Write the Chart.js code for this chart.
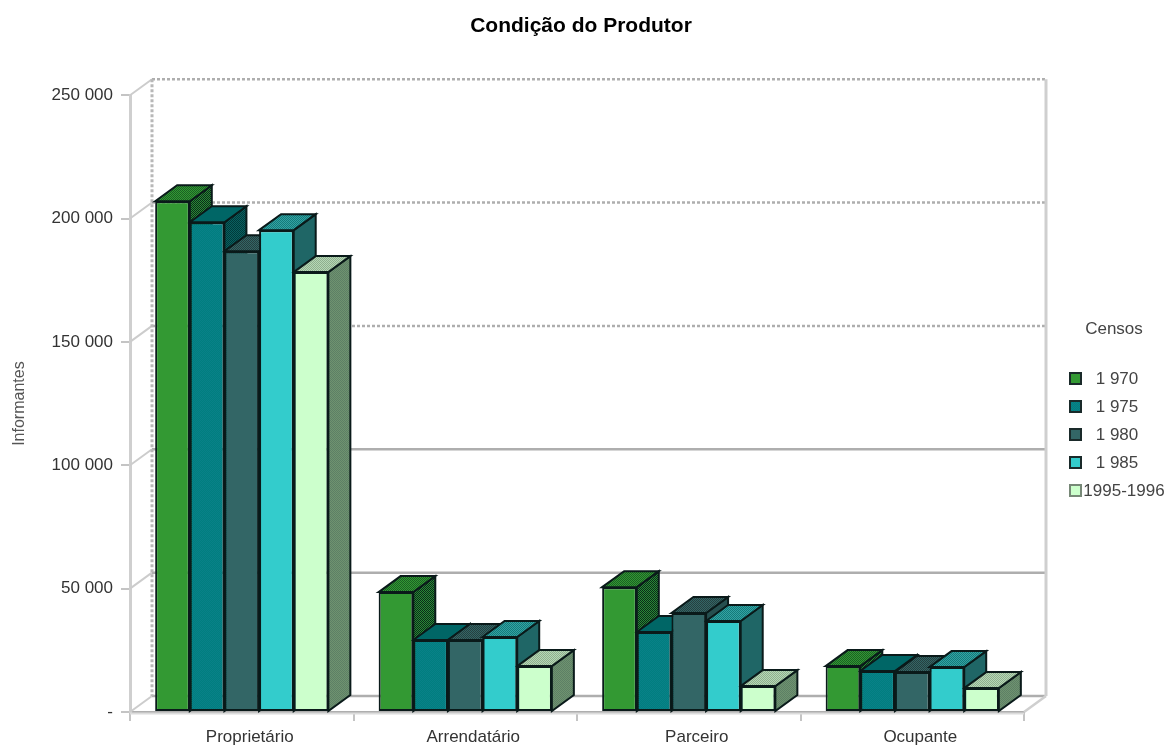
<!DOCTYPE html>
<html>
<head>
<meta charset="utf-8">
<title>Condição do Produtor</title>
<script src="https://cdn.jsdelivr.net/npm/chart.js@4"></script>
<style>
  html, body { margin: 0; padding: 0; background: #fff; overflow: hidden; }
  /* the original is a soft low-res gif */
  canvas { display: block; filter: blur(0.4px); }
</style>
</head>
<body>
<canvas id="produtor" width="1166" height="745"></canvas>
<script>
const categories = ['Proprietário', 'Arrendatário', 'Parceiro', 'Ocupante'];
const censos = ['1 970', '1 975', '1 980', '1 985', '1995-1996'];
const values1970 = [207000, 48600, 50600, 18600];
const values1975 = [198500, 29200, 32400, 16600];
const values1980 = [186800, 29200, 40100, 16200];
const values1985 = [195300, 30400, 36900, 18200];
const values1995 = [178300, 18600, 10500, 9700];
const yTicks = [0, 50000, 100000, 150000, 200000, 250000];

const DEPTH_X = 22, DEPTH_Y = 16;
const FONT = '"Liberation Sans", Arial, sans-serif';

// small 2x2 checker, the original is a dithered gif
function dither(a, b) {
    const c = document.createElement('canvas');
    c.width = c.height = 2;
    const g = c.getContext('2d');
    g.fillStyle = a;
    g.fillRect(0, 0, 2, 2);
    g.fillStyle = b;
    g.fillRect(0, 0, 1, 1);
    g.fillRect(1, 1, 1, 1);
    return g.createPattern(c, 'repeat');
}

const fronts = ['#339933', dither('#007f7f', '#0a8088'), '#336666', '#33cccc', '#ccffcc'];
const tops = [dither('#339933', '#1a5f24'), '#006666', dither('#336666', '#263f3f'), dither('#33a3a3', '#157a7a'), dither('#b5d8b5', '#8fae8f')];
const sides = [dither('#2a8a35', '#0a2a1a'), dither('#0a6060', '#003a3a'), '#264f4f', '#1f6666', dither('#6f936f', '#5d7f66')];

function yTickLabel(v) {
    return v === 0 ? '-' : String(v).replace(/\B(?=(\d{3})+$)/g, ' ');
}

function line(ctx, x1, y1, x2, y2, color, width, dash) {
    ctx.save();
    ctx.strokeStyle = color;
    ctx.lineWidth = width;
    ctx.setLineDash(dash || []);
    ctx.beginPath();
    ctx.moveTo(x1, y1);
    ctx.lineTo(x2, y2);
    ctx.stroke();
    ctx.restore();
}

function face(ctx, pts, fill) {
    ctx.beginPath();
    pts.forEach((p, i) => i ? ctx.lineTo(p[0], p[1]) : ctx.moveTo(p[0], p[1]));
    ctx.closePath();
    ctx.fillStyle = fill;
    ctx.fill();
    ctx.strokeStyle = '#0a1a1a';
    ctx.lineWidth = 2;
    ctx.stroke();
}

// back wall, side wall, floor and the depth of the bars
const depthPlugin = {
    id: 'depth',
    afterLayout(chart) {
        // centre the title on the whole page, not just on the plot side
        chart.titleBlock.left = 0;
        chart.titleBlock.right = chart.width - 4;
    },
    beforeDatasetsDraw(chart) {
        const ctx = chart.ctx;
        const { left, right } = chart.chartArea;
        const y = chart.scales.y;
        yTicks.forEach(v => {
            const py = y.getPixelForValue(v);
            line(ctx, left, py, left + DEPTH_X, py - DEPTH_Y, '#cccccc', 2);
            const dash = v >= 150000 ? [3, 2] : null;
            line(ctx, left + DEPTH_X, py - DEPTH_Y, right + DEPTH_X, py - DEPTH_Y, '#aeaeae', 2.5, dash);
        });
        const top = y.getPixelForValue(250000), floor = y.getPixelForValue(0);
        line(ctx, left + DEPTH_X, top - DEPTH_Y, left + DEPTH_X, floor - DEPTH_Y, '#b8b8b8', 3, [3, 2]);
        line(ctx, right + DEPTH_X, top - DEPTH_Y, right + DEPTH_X, floor - DEPTH_Y, '#cfcfcf', 3);
        line(ctx, right, floor, right + DEPTH_X, floor - DEPTH_Y, '#cfcfcf', 2.5);
        line(ctx, left, floor + 1.5, right, floor + 1.5, '#dcdcdc', 2);

        chart.data.datasets.forEach((ds, i) => {
            chart.getDatasetMeta(i).data.forEach(bar => {
                const x1 = bar.x - bar.width / 2, x2 = bar.x + bar.width / 2;
                face(ctx, [[x2, bar.y], [x2 + DEPTH_X, bar.y - DEPTH_Y], [x2 + DEPTH_X, bar.base - DEPTH_Y], [x2, bar.base]], sides[i]);
                face(ctx, [[x1, bar.y], [x1 + DEPTH_X, bar.y - DEPTH_Y], [x2 + DEPTH_X, bar.y - DEPTH_Y], [x2, bar.y]], tops[i]);
            });
        });
    }
};

// legend sits off to the right with its own spacing
const censosLegend = {
    id: 'censosLegend',
    afterDraw(chart) {
        const ctx = chart.ctx;
        ctx.save();
        ctx.font = '17px ' + FONT;
        ctx.fillStyle = '#444';
        ctx.textBaseline = 'middle';
        ctx.textAlign = 'center';
        ctx.fillText('Censos', 1114, 329);
        chart.data.datasets.forEach((ds, i) => {
            const py = 378 + i * 28;
            ctx.fillStyle = fronts[i];
            ctx.fillRect(1070, py - 5, 11, 11);
            ctx.strokeStyle = i === 4 ? '#778877' : '#1a2a2a';
            ctx.lineWidth = 2;
            ctx.strokeRect(1070, py - 5, 11, 11);
            ctx.fillStyle = '#444';
            ctx.fillText(ds.label, i < 4 ? 1117 : 1124, py + 1);
        });
        ctx.restore();
    }
};

function bars(label, data, i) {
    return {
        label: label,
        data: data,
        backgroundColor: fronts[i],
        borderColor: '#0a1a1a',
        borderWidth: 2,
        borderSkipped: false
    };
}

new Chart(document.getElementById('produtor').getContext('2d'), {
    type: 'bar',
    data: {
        labels: categories,
        datasets: [
            bars(censos[0], values1970, 0),
            bars(censos[1], values1975, 1),
            bars(censos[2], values1980, 2),
            bars(censos[3], values1985, 3),
            bars(censos[4], values1995, 4)
        ]
    },
    options: {
        responsive: false,
        animation: false,
        categoryPercentage: 0.775,
        barPercentage: 1,
        layout: { padding: { left: 0, right: 142, top: 0, bottom: 0 } },
        plugins: {
            legend: { display: false },
            tooltip: { enabled: false },
            title: {
                display: true,
                text: 'Condição do Produtor',
                color: '#000',
                font: { family: FONT, size: 21, weight: 'bold' },
                padding: { top: 14, bottom: 56 }
            }
        },
        scales: {
            x: {
                afterFit(scale) { scale.height = 33; },
                grid: { offset: true, drawOnChartArea: false, color: '#c4c4c4', lineWidth: 2, tickLength: 9 },
                border: { color: '#aeaeae', width: 2 },
                ticks: { color: '#333', font: { family: FONT, size: 17 }, labelOffset: 8, padding: 6, maxRotation: 0 }
            },
            y: {
                min: 0,
                max: 250000,
                afterFit(scale) { scale.width = 130; },
                afterBuildTicks(scale) { scale.ticks = yTicks.map(v => ({ value: v })); },
                grid: { drawOnChartArea: false, color: '#c4c4c4', lineWidth: 2, tickLength: 9 },
                border: { color: '#cfcfcf', width: 3 },
                ticks: { color: '#333', font: { family: FONT, size: 17 }, padding: 8, callback: yTickLabel },
                title: {
                    display: true,
                    text: 'Informantes',
                    color: '#555',
                    font: { family: FONT, size: 16 },
                    padding: { top: 10, bottom: 0 }
                }
            }
        }
    },
    plugins: [depthPlugin, censosLegend]
});
</script>
</body>
</html>
